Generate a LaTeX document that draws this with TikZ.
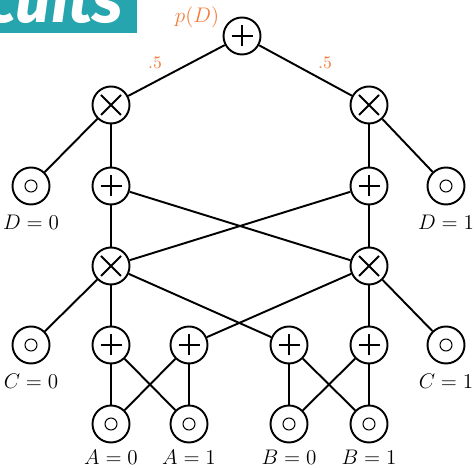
\documentclass[tikz,border=0pt]{standalone}
\usepackage{fontspec}
\newfontfamily\bannerfont{Fira Sans}
\usetikzlibrary{positioning,calc}
\definecolor{spnteal}{HTML}{27A5AE}
\definecolor{spnorange}{HTML}{F47B3A}
\tikzset{
    unit/.style={circle,draw,line width=1.1pt,minimum size=7.4mm,inner sep=0pt,fill=white},
    sumnode/.style={unit,path picture={
        \draw[line width=1.1pt] (path picture bounding box.center) ++(-0.21,0) -- ++(0.42,0)
            ++(-0.21,-0.21) -- ++(0,0.42);}},
    prodnode/.style={unit,path picture={
        \draw[line width=1.1pt] (path picture bounding box.center) ++(-0.2,-0.2) -- ++(0.4,0.4)
            ++(-0.4,0) -- ++(0.4,-0.4);}},
    leaf/.style={unit,path picture={
        \draw[line width=0.6pt] (path picture bounding box.center) circle (0.12);}},
    varlabel/.style={font=\large,inner sep=1pt,below=0.15cm of #1},
    weight/.style={text=spnorange},
    every edge/.style={draw,line width=1.1pt},
}
\begin{document}
\begin{tikzpicture}
    \useasboundingbox (0,0) rectangle (9.5,9.36);
    % title banner, cut by the page edge
    \fill[spnteal] (0,8.70) rectangle (2.74,9.36);
    \node[anchor=base east,inner sep=0pt,text=white,font=\bannerfont\bfseries\itshape\fontsize{36}{40}\selectfont] (title) at (2.46,8.90) {rcuits};

    \node[sumnode] (root) at (4.84,8.64) {};
    \node[prodnode] (pl) at (2.22,7.26) {};
    \node[prodnode] (pr) at (7.38,7.26) {};
    \node[leaf] (dl) at (0.62,5.64) {};
    \node[leaf] (dr) at (8.92,5.64) {};
    \node[sumnode] (sl) at (2.22,5.64) {};
    \node[sumnode] (sr) at (7.38,5.64) {};
    \node[prodnode] (ql) at (2.22,4.04) {};
    \node[prodnode] (qr) at (7.38,4.04) {};
    \node[leaf] (cl) at (0.62,2.46) {};
    \node[leaf] (cr) at (8.92,2.46) {};
    \foreach \n/\x/\t in {a0/2.22/{A=0},a1/3.78/{A=1},b0/5.78/{B=0},b1/7.38/{B=1}}{
        \node[sumnode] (s\n) at (\x,2.46) {};
        \node[leaf] (\n) at (\x,0.88) {};
        \node[varlabel=\n,below=0.1cm of \n] (l\n) {$\t$};
    }
    \node[varlabel=dl] (ldl) {$D=0$};
    \node[varlabel=dr] (ldr) {$D=1$};
    \node[varlabel=cl] (lcl) {$C=0$};
    \node[varlabel=cr] (lcr) {$C=1$};

    \node[weight,font=\large] (wroot) at (3.94,9.02) {$p(D)$};
    \node[weight] (wl) at (3.10,8.10) {.5};
    \node[weight] (wr) at (6.50,8.10) {.5};

    \draw (root) edge (pl) edge (pr)
          (pl) edge (dl) edge (sl)
          (pr) edge (dr) edge (sr)
          (sl) edge (ql) edge (qr)
          (sr) edge (qr) edge (ql)
          (ql) edge (cl) edge (sa0) edge (sb0)
          (qr) edge (cr) edge (sb1) edge (sa1);
    \foreach \v in {a,b}
        \draw (s\v0) edge (\v0) edge (\v1)
              (s\v1) edge (\v0) edge (\v1);
\end{tikzpicture}
\end{document}
